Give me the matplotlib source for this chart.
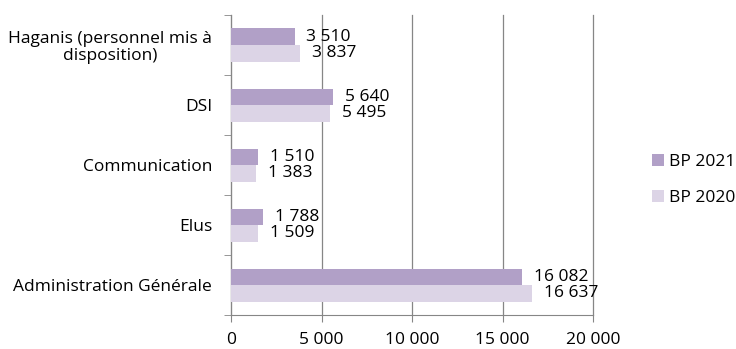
import matplotlib
matplotlib.use("Agg")
import matplotlib.pyplot as plt
import numpy as np

categories = ["Administration Générale", "Elus", "Communication", "DSI",
              "Haganis (personnel mis à\ndisposition)"]
bp2021 = [16082, 1788, 1510, 5640, 3510]
bp2020 = [16637, 1509, 1383, 5495, 3837]
xticks = [0, 5000, 10000, 15000, 20000]
xtick_labels = ["0", "5 000", "10 000", "15 000", "20 000"]

c2021 = "#B1A0C7"
c2020 = "#DCD4E6"
grid_c = "#868686"
font = ["Open Sans", "DejaVu Sans"]
fs = 12.5

def fmt(v):
    return f"{v:,}".replace(",", " ")

fig = plt.figure(figsize=(7.36, 3.49), dpi=100)
ax = fig.add_axes([231 / 736, 1 - 315 / 349, (593 - 231) / 736, 300 / 349])

y = np.arange(len(categories))
h = 0.275
ax.barh(y + h / 2, bp2021, height=h, color=c2021, label="BP 2021", zorder=3)
ax.barh(y - h / 2, bp2020, height=h, color=c2020, label="BP 2020", zorder=3)

for yi, v in zip(y, bp2021):
    ax.annotate(fmt(v), (v, yi + h / 2), xytext=(8.6, 0), textcoords="offset points",
                va="center", ha="left", fontsize=fs, family=font, color="#000000")
for yi, v in zip(y, bp2020):
    ax.annotate(fmt(v), (v, yi - h / 2), xytext=(8.6, 0), textcoords="offset points",
                va="center", ha="left", fontsize=fs, family=font, color="#000000")

ax.set_xlim(0, 20000)
ax.set_ylim(-0.5, len(categories) - 0.5)
ax.set_xticks(xticks)
ax.set_xticklabels(xtick_labels, family=font, fontsize=fs)
ax.set_yticks(y)
ax.set_yticklabels(categories, family=font, fontsize=fs, ha="right",
                   multialignment="center", linespacing=1.05)
ax.tick_params(axis="y", length=0, pad=13.5)
ax.set_yticks(np.arange(-0.5, len(categories)), minor=True)
ax.tick_params(axis="y", which="minor", length=5, color=grid_c)
ax.tick_params(axis="x", length=5, color=grid_c, pad=7)
ax.xaxis.grid(True, color=grid_c, linewidth=0.9, zorder=0)
for gl in ax.get_xgridlines():
    gl.set_clip_on(False)

for s in ["top", "right"]:
    ax.spines[s].set_visible(False)
ax.spines["left"].set_color(grid_c)
ax.spines["bottom"].set_color(grid_c)

handles, labels = ax.get_legend_handles_labels()
leg = fig.legend(handles, labels, loc="center left",
                 bbox_to_anchor=(652 / 736, 1 - 180 / 349),
                 frameon=False, prop={"family": font, "size": fs},
                 borderpad=0, borderaxespad=0,
                 handlelength=0.69, handleheight=0.69, labelspacing=1.1,
                 handletextpad=0.29)

fig.savefig("out.png", dpi=100)
